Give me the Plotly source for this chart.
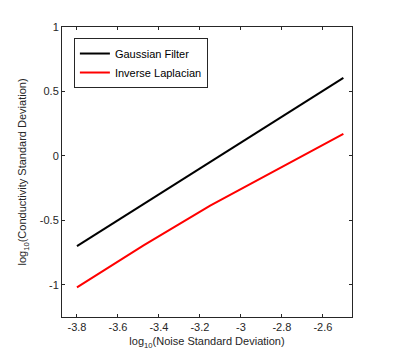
import plotly.graph_objects as go

noise_log = [-3.8, -3.475, -3.15, -2.825, -2.5]
gaussian = [-0.70, -0.374, -0.048, 0.279, 0.605]
inv_laplacian = [-1.02, -0.695, -0.386, -0.106, 0.17]

x_ticks = [-3.8, -3.6, -3.4, -3.2, -3.0, -2.8, -2.6]
x_ticktext = ["-3.8", "-3.6", "-3.4", "-3.2", "-3", "-2.8", "-2.6"]
y_ticks = [-1, -0.5, 0, 0.5, 1]
y_ticktext = ["-1", "-0.5", "0", "0.5", "1"]

fig = go.Figure()
fig.add_trace(go.Scatter(x=noise_log, y=gaussian, mode="lines", name="Gaussian Filter",
                         line=dict(color="#000000", width=2)))
fig.add_trace(go.Scatter(x=noise_log, y=inv_laplacian, mode="lines", name="Inverse Laplacian",
                         line=dict(color="#ff0000", width=2)))

axis_common = dict(showline=True, linecolor="#262626", linewidth=1, mirror="allticks",
                   ticks="inside", ticklen=3, tickcolor="#262626", showgrid=False,
                   zeroline=False, automargin=False,
                   tickfont=dict(family="Liberation Sans, Arial", size=11, color="#262626"))

fig.update_layout(
    width=392, height=348,
    margin=dict(l=54, r=48, t=19, b=39, autoexpand=False),
    paper_bgcolor="white", plot_bgcolor="white",
    font=dict(family="Liberation Sans, Arial", size=11, color="#262626"),
    xaxis=dict(range=[-3.873, -2.458], tickvals=x_ticks, ticktext=x_ticktext,
               title=dict(text="log<sub>10</sub>(Noise Standard Deviation)", standoff=5,
                          font=dict(size=11, color="#262626")),
               **axis_common),
    yaxis=dict(range=[-1.25, 1.0], tickvals=y_ticks, ticktext=y_ticktext,
               title=dict(text="log<sub>10</sub>(Conductivity Standard Deviation)", standoff=10,
                          font=dict(size=11, color="#262626")),
               **axis_common),
    legend=dict(x=0.041, y=0.962, xanchor="left", yanchor="top", bgcolor="white",
                bordercolor="#262626", borderwidth=1,
                font=dict(family="Liberation Sans, Arial", size=11, color="#000000"),
                tracegroupgap=0, itemwidth=30),
    showlegend=True,
)

fig.write_html("out.html")
